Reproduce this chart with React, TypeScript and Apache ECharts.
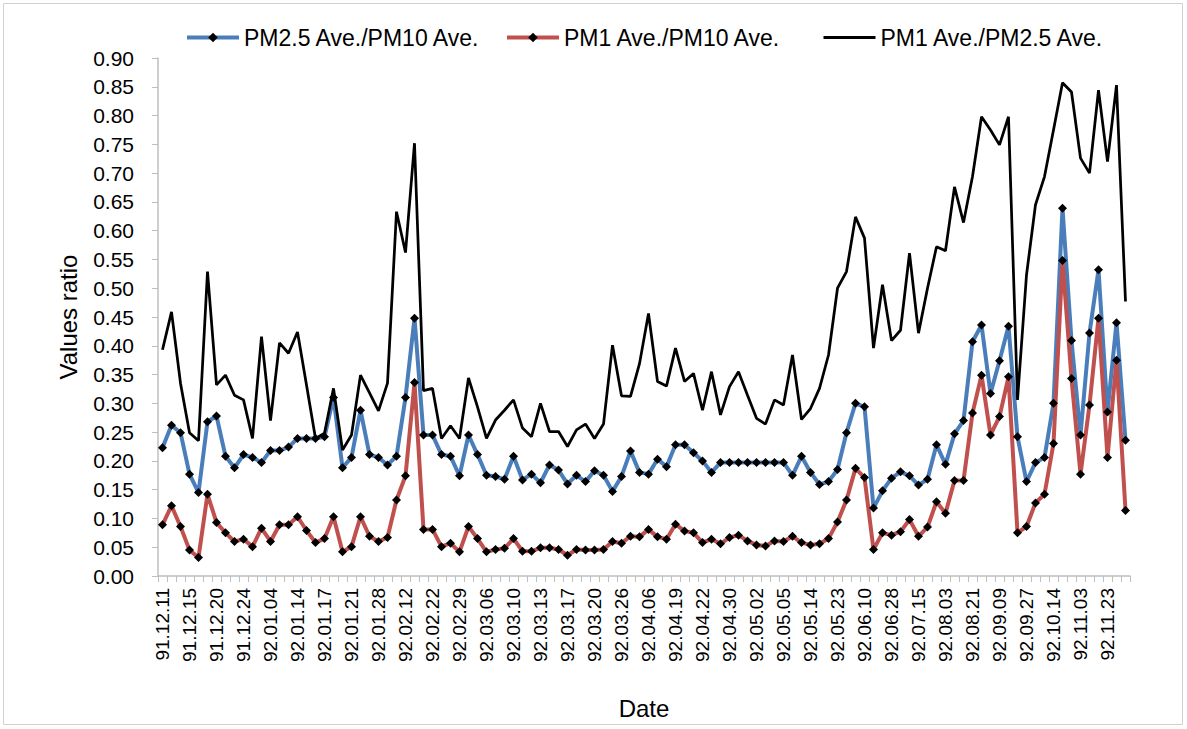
import React, { useEffect, useRef } from 'react';
import * as echarts from 'echarts';

const tickLabels = [
  '91.12.11', '91.12.15', '91.12.20', '91.12.24', '92.01.04', '92.01.14',
  '92.01.17', '92.01.21', '92.01.28', '92.02.12', '92.02.22', '92.02.29',
  '92.03.06', '92.03.10', '92.03.13', '92.03.17', '92.03.20', '92.03.26',
  '92.04.06', '92.04.19', '92.04.22', '92.04.30', '92.05.02', '92.05.05',
  '92.05.14', '92.05.23', '92.06.10', '92.06.28', '92.07.15', '92.08.03',
  '92.08.21', '92.09.09', '92.09.27', '92.10.14', '92.11.03', '92.11.23',
];

const seriesNames = ['PM2.5 Ave./PM10 Ave.', 'PM1 Ave./PM10 Ave.', 'PM1 Ave./PM2.5 Ave.'];

const pm25OverPm10 = [
  0.223, 0.262, 0.249, 0.177, 0.145, 0.268, 0.278, 0.208, 0.188, 0.211,
  0.206, 0.197, 0.218, 0.218, 0.224, 0.239, 0.239, 0.239, 0.242, 0.310,
  0.188, 0.206, 0.288, 0.211, 0.206, 0.193, 0.208, 0.310, 0.448, 0.245,
  0.245, 0.211, 0.208, 0.174, 0.245, 0.211, 0.175, 0.173, 0.168, 0.208,
  0.167, 0.177, 0.162, 0.193, 0.184, 0.160, 0.175, 0.164, 0.183, 0.175,
  0.147, 0.173, 0.217, 0.180, 0.177, 0.203, 0.190, 0.228, 0.228, 0.214,
  0.200, 0.180, 0.197, 0.197, 0.197, 0.197, 0.197, 0.197, 0.197, 0.197,
  0.175, 0.208, 0.180, 0.159, 0.164, 0.185, 0.249, 0.300, 0.294, 0.118,
  0.148, 0.170, 0.181, 0.174, 0.158, 0.168, 0.228, 0.194, 0.247, 0.270,
  0.407, 0.436, 0.317, 0.374, 0.434, 0.242, 0.164, 0.197, 0.206, 0.300,
  0.639, 0.409, 0.245, 0.422, 0.532, 0.285, 0.440, 0.236,
];

const pm1OverPm10 = [
  0.089, 0.122, 0.086, 0.045, 0.032, 0.142, 0.093, 0.075, 0.060, 0.064,
  0.051, 0.083, 0.060, 0.089, 0.089, 0.103, 0.079, 0.058, 0.065, 0.103,
  0.042, 0.051, 0.103, 0.069, 0.060, 0.067, 0.132, 0.174, 0.336, 0.081,
  0.081, 0.051, 0.057, 0.042, 0.086, 0.065, 0.042, 0.046, 0.048, 0.065,
  0.043, 0.043, 0.049, 0.049, 0.046, 0.036, 0.046, 0.045, 0.045, 0.046,
  0.060, 0.057, 0.069, 0.068, 0.081, 0.068, 0.064, 0.090, 0.078, 0.075,
  0.058, 0.064, 0.056, 0.067, 0.071, 0.061, 0.054, 0.052, 0.061, 0.060,
  0.069, 0.058, 0.054, 0.056, 0.065, 0.094, 0.132, 0.187, 0.171, 0.046,
  0.075, 0.071, 0.077, 0.098, 0.069, 0.085, 0.129, 0.109, 0.166, 0.166,
  0.283, 0.349, 0.245, 0.277, 0.346, 0.075, 0.086, 0.127, 0.142, 0.230,
  0.548, 0.343, 0.177, 0.297, 0.448, 0.206, 0.375, 0.114,
];

const pm1OverPm25 = [
  0.393, 0.459, 0.335, 0.249, 0.235, 0.529, 0.332, 0.349, 0.314, 0.306,
  0.239, 0.416, 0.270, 0.405, 0.387, 0.424, 0.332, 0.239, 0.248, 0.326,
  0.219, 0.245, 0.349, 0.318, 0.287, 0.335, 0.633, 0.562, 0.752, 0.322,
  0.326, 0.239, 0.261, 0.239, 0.344, 0.294, 0.239, 0.271, 0.288, 0.306,
  0.257, 0.242, 0.300, 0.251, 0.251, 0.225, 0.254, 0.264, 0.239, 0.264,
  0.401, 0.313, 0.312, 0.369, 0.456, 0.338, 0.330, 0.396, 0.338, 0.352,
  0.288, 0.355, 0.280, 0.329, 0.355, 0.314, 0.274, 0.264, 0.306, 0.297,
  0.384, 0.272, 0.291, 0.326, 0.384, 0.500, 0.529, 0.624, 0.587, 0.396,
  0.506, 0.409, 0.427, 0.561, 0.422, 0.500, 0.572, 0.565, 0.676, 0.614,
  0.694, 0.798, 0.775, 0.749, 0.798, 0.306, 0.523, 0.645, 0.694, 0.775,
  0.857, 0.841, 0.726, 0.700, 0.844, 0.720, 0.853, 0.477,
];

// one visible date label every third sampling day (the others are unlabeled)
const categories = pm25OverPm10.map((_, i) => (i % 3 === 0 ? tickLabels[i / 3] : ''));

const FONT = "'Liberation Sans', Arial, sans-serif";
const AXIS_GRAY = '#bfbfbf';

export default function App() {
  const ref = useRef<HTMLDivElement>(null);

  useEffect(() => {
    document.body.style.margin = '0';
    if (!ref.current) return;
    const chart = echarts.init(ref.current, undefined, { renderer: 'svg' });

    const legendBase = {
      top: 26,
      padding: 0,
      itemWidth: 52,
      itemHeight: 12,
      textStyle: { fontFamily: FONT, fontSize: 23, color: '#000' },
    };

    chart.setOption({
      animation: false,
      backgroundColor: '#fff',
      textStyle: { fontFamily: FONT },
      graphic: [
        {
          type: 'rect',
          shape: { x: 3.5, y: 3.5, width: 1179, height: 721 },
          style: { fill: 'none', stroke: '#d0d0d0', lineWidth: 1 },
          silent: true,
        },
      ],
      legend: [
        { ...legendBase, left: 185, lineStyle: { width: 4 }, data: [seriesNames[0]] },
        { ...legendBase, left: 505, lineStyle: { width: 4 }, data: [seriesNames[1]] },
        {
          ...legendBase,
          left: 822,
          lineStyle: { width: 3 },
          itemStyle: { opacity: 0 },
          data: [seriesNames[2]],
        },
      ],
      grid: { left: 158, right: 57, top: 58, bottom: 153 },
      xAxis: {
        type: 'category',
        data: categories,
        boundaryGap: true,
        name: 'Date',
        nameLocation: 'middle',
        nameGap: 120,
        nameTextStyle: { fontFamily: FONT, fontSize: 24, color: '#000' },
        axisLine: { lineStyle: { color: AXIS_GRAY, width: 1.5 } },
        axisTick: { show: true, interval: 0, length: 6, lineStyle: { color: AXIS_GRAY } },
        axisLabel: {
          interval: 2,
          rotate: 90,
          margin: 12,
          fontFamily: FONT,
          fontSize: 19,
          color: '#000',
        },
        splitLine: { show: false },
      },
      yAxis: {
        type: 'value',
        min: 0,
        max: 0.9,
        interval: 0.05,
        name: 'Values ratio',
        nameLocation: 'middle',
        nameGap: 78,
        nameRotate: 90,
        nameTextStyle: { fontFamily: FONT, fontSize: 24, color: '#000' },
        axisLine: { show: true, lineStyle: { color: AXIS_GRAY, width: 1.5 } },
        axisTick: { show: true, length: 6, lineStyle: { color: AXIS_GRAY } },
        axisLabel: {
          margin: 24,
          fontFamily: FONT,
          fontSize: 21,
          color: '#000',
          formatter: (v: number) => v.toFixed(2),
        },
        splitLine: { show: false },
      },
      series: [
        {
          name: seriesNames[0],
          type: 'line',
          data: pm25OverPm10,
          symbol: 'diamond',
          symbolSize: 9,
          showAllSymbol: true,
          lineStyle: { color: '#4a7ebb', width: 4 },
          itemStyle: { color: '#000' },
        },
        {
          name: seriesNames[1],
          type: 'line',
          data: pm1OverPm10,
          symbol: 'diamond',
          symbolSize: 9,
          showAllSymbol: true,
          lineStyle: { color: '#c0504d', width: 4 },
          itemStyle: { color: '#000' },
        },
        {
          name: seriesNames[2],
          type: 'line',
          data: pm1OverPm25,
          symbol: 'none',
          lineStyle: { color: '#000', width: 2.75 },
          itemStyle: { color: '#000' },
        },
      ],
    });

    return () => chart.dispose();
  }, []);

  return <div ref={ref} style={{ width: 1187, height: 729 }} />;
}
